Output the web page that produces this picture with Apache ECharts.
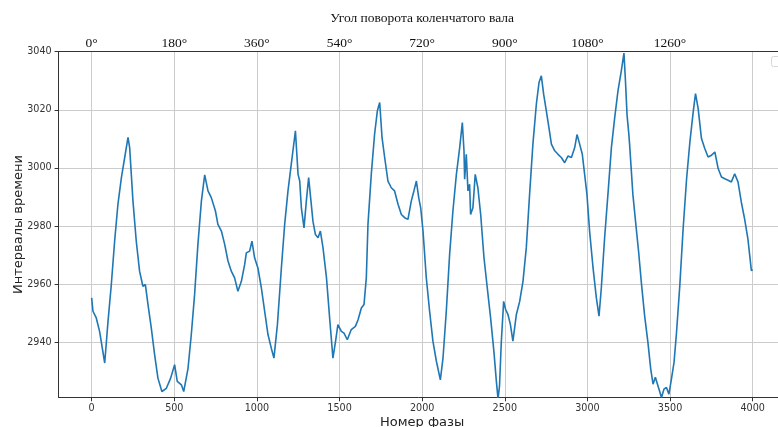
<!DOCTYPE html>
<html>
<head>
<meta charset="utf-8">
<script src="https://cdn.jsdelivr.net/npm/echarts@6/dist/echarts.min.js"></script>
<style>html,body{margin:0;padding:0;background:#fff}#c{width:778px;height:427px}</style>
</head>
<body>
<div id="c"></div>
<script>
const phases = [0,8,28,48,79,99,119,139,159,180,200,220,230,250,270,290,310,325,341,361,381,401,425,452,478,502,518,543,557,583,603,623,643,664,684,704,724,749,764,785,805,825,845,865,885,906,926,936,956,970,986,1006,1027,1047,1067,1087,1103,1124,1148,1168,1188,1208,1233,1249,1259,1269,1285,1299,1313,1325,1339,1354,1370,1384,1400,1421,1440,1460,1476,1490,1511,1527,1547,1571,1596,1612,1632,1648,1662,1672,1692,1712,1729,1743,1757,1773,1793,1813,1833,1854,1874,1894,1914,1934,1950,1965,1979,1991,2005,2025,2045,2065,2086,2110,2126,2146,2166,2186,2207,2227,2243,2253,2257,2267,2277,2287,2293,2307,2321,2337,2354,2374,2394,2414,2434,2449,2459,2468,2479,2493,2505,2519,2534,2549,2570,2590,2610,2630,2650,2670,2691,2707,2721,2735,2751,2767,2782,2802,2822,2842,2862,2882,2903,2923,2937,2953,2969,2983,2997,3013,3034,3054,3070,3084,3104,3124,3145,3165,3185,3205,3221,3230,3240,3250,3255,3275,3295,3310,3326,3346,3366,3383,3397,3411,3423,3433,3448,3463,3478,3493,3508,3524,3539,3559,3579,3600,3620,3640,3654,3670,3690,3710,3730,3751,3771,3791,3811,3831,3851,3871,3891,3911,3931,3951,3971,3992,4000];
const values = [2955.3,2950.7,2948.4,2943.8,2932.9,2947.2,2959.9,2974.8,2987.5,2996.7,3003.6,3010.5,3007,2988.6,2974.8,2964.5,2959.3,2959.9,2953,2944.9,2935.8,2927.7,2923.1,2924.2,2927.7,2932.3,2926.6,2925.4,2923.1,2931,2942.7,2956.5,2973.7,2988.6,2997.6,2992.1,2989.8,2985.2,2980.6,2978.3,2973.7,2968,2964.5,2962.2,2957.6,2961,2966.8,2970.8,2971.4,2974.8,2969.1,2965.6,2958.7,2950.7,2942.7,2938,2934.6,2946.1,2965.6,2980.6,2992.1,3001.3,3012.8,2997.8,2995.5,2986.3,2979.4,2988.6,2996.7,2989.8,2981.7,2977.1,2976,2978.3,2972.5,2962.2,2948.4,2934.6,2940.4,2946.1,2943.8,2943.2,2940.9,2944.4,2945.5,2947.8,2951.8,2953,2962.2,2980.6,2997.8,3011.6,3019.7,3022.5,3010.5,3003.6,2995.5,2993.2,2992.1,2987.5,2984,2982.9,2982.3,2988.6,2992.1,2995.5,2989.8,2986.3,2978.3,2962.2,2950.7,2940.4,2933.5,2927.1,2934.6,2950.7,2970.2,2985.2,2997.8,3007,3015.6,3005.9,2996.1,3004.7,2992.1,2994.4,2984,2986.3,2997.8,2993.2,2984,2969.1,2958.7,2948.4,2936.9,2926.6,2920.5,2925,2940.4,2954.1,2951.3,2949.6,2946.1,2940.4,2949.6,2954.1,2961,2972.5,2990.9,3008.2,3022,3029.4,3031.7,3025.4,3019.7,3013.9,3008.2,3005.9,3004.7,3003.6,3001.8,3004.1,3003.6,3007,3011.5,3008.2,3004.7,2997.8,2990.9,2978.3,2965.6,2955.3,2949,2958.7,2976,2990.9,3007,3017.3,3026.6,3033.4,3039.5,3030,3018,3012,3008.2,2990.9,2979.4,2971,2960.7,2949.2,2940,2930.8,2925.6,2928,2928.5,2923.9,2921,2923.9,2924.5,2922.2,2927.3,2933.1,2943.4,2959.6,2979.1,2996.3,3009,3019.3,3025.6,3020.4,3010.1,3006.7,3003.8,3004.4,3005.5,2999.8,2996.9,2996.3,2995.8,2995.2,2998,2995.2,2988.3,2982.5,2975.6,2964.7,2965];
const topTickPhases = [0,500,1000,1500,2000,2500,3000,3500];
const topTickLabels = ['0°','180°','360°','540°','720°','900°','1080°','1260°'];
const yTickValues = [2940,2960,2980,3000,3020,3040];

const chart = echarts.init(document.getElementById('c'), null, {renderer:'canvas'});
const sans = 'DejaVu Sans';
const serif = 'Liberation Serif';
chart.setOption({
  animation:false,
  backgroundColor:'#fff',
  grid:{left:58.6, right:-7.75, top:51.7, bottom:29.7, containLabel:false, outerBoundsMode:'none'},
  xAxis:[{
    type:'value', position:'bottom', min:-200, max:4200, splitNumber:9,
    name:'Номер фазы', nameLocation:'middle', nameGap:19, nameMoveOverlap:false,
    nameTextStyle:{fontFamily:sans, fontSize:13, color:'#222'},
    axisLine:{show:true, onZero:false, lineStyle:{color:'#333', width:1}},
    axisTick:{show:true, length:4, lineStyle:{color:'#333'}},
    axisLabel:{fontFamily:sans, fontSize:9.6, color:'#333', margin:6, showMinLabel:false, showMaxLabel:false,
      formatter:v=> (v>=0 && v<=4000 && v%500===0) ? String(v) : ''},
    splitLine:{show:true, lineStyle:{color:'#cccccc', width:1}}
  },{
    type:'value', position:'top', min:-200, max:4200, splitNumber:9,
    name:'Угол поворота коленчатого вала', nameLocation:'middle', nameGap:26, nameMoveOverlap:false,
    nameTextStyle:{fontFamily:serif, fontSize:13.5, color:'#111'},
    axisLine:{show:true, onZero:false, lineStyle:{color:'#333', width:1}},
    axisTick:{show:false},
    axisLabel:{fontFamily:serif, fontSize:13.5, color:'#111', margin:1, showMinLabel:false, showMaxLabel:false,
      formatter:v=>{const i=topTickPhases.indexOf(v); return i>=0 ? topTickLabels[i] : '';}},
    splitLine:{show:false}
  }],
  yAxis:{
    type:'value', min:2921.1, max:3040,
    name:'Интервалы времени', nameLocation:'middle', nameGap:33, nameMoveOverlap:false,
    nameTextStyle:{fontFamily:sans, fontSize:13, color:'#222'},
    axisLine:{show:true, onZero:false, lineStyle:{color:'#333', width:1}},
    axisTick:{show:true, length:4, lineStyle:{color:'#333'}},
    axisLabel:{fontFamily:sans, fontSize:9.6, color:'#333', margin:7, showMinLabel:false,
      formatter:v=> yTickValues.indexOf(v)>=0 ? String(v) : ''},
    splitLine:{show:true, lineStyle:{color:'#cccccc', width:1}}
  },
  graphic:[{type:'rect', right:-12, top:56, shape:{width:18, height:10, r:2}, style:{fill:'#fff', stroke:'#d8d8d8', lineWidth:1}}],
  series:[{
    type:'line', xAxisIndex:0, showSymbol:false, symbol:'none',
    data: phases.map((p,i)=>[p, values[i]]),
    lineStyle:{color:'#1f77b4', width:1.6}, clip:true
  }]
});
</script>
</body>
</html>
